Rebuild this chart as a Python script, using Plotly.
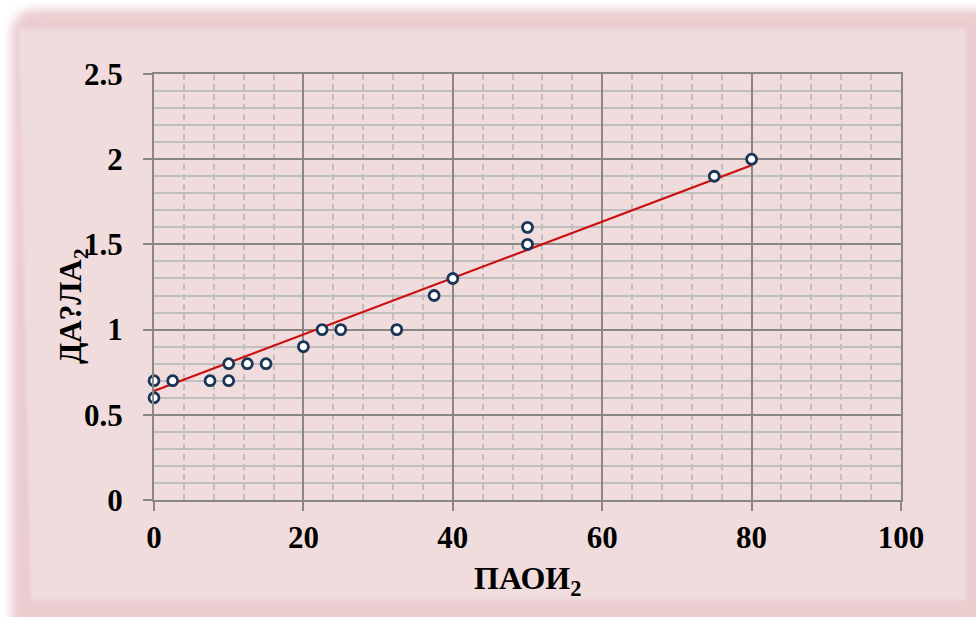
import base64
import plotly.graph_objects as go

# Measured points
paoi = [0, 0, 2.5, 7.5, 10, 10, 12.5, 15, 20, 22.5, 25, 32.5, 37.5, 40, 50, 50, 75, 80]
dala = [0.7, 0.6, 0.7, 0.7, 0.8, 0.7, 0.8, 0.8, 0.9, 1.0, 1.0, 1.0, 1.2, 1.3, 1.6, 1.5, 1.9, 2.0]

# Linear trend line end points
trend_x = [0, 80]
trend_y = [0.64, 1.965]

x_ticks = [0, 20, 40, 60, 80, 100]
y_ticks = [0, 0.5, 1, 1.5, 2, 2.5]
y_tick_text = ["0", "0.5", "1", "1.5", "2", "2.5"]

W, H = 976, 617
ML, MR, MT, MB = 154, 75, 74, 117
PW, PH = W - ML - MR, H - MT - MB

FONT = "Liberation Serif, Times New Roman, serif"
MAJOR = "#878787"
MINOR = "#bfbfbf"

# Pink framed backdrop with soft edges
svg = f'''<svg xmlns="http://www.w3.org/2000/svg" width="{W}" height="{H}" viewBox="0 0 {W} {H}">
<defs>
<filter id="soft" x="-20%" y="-20%" width="140%" height="140%"><feGaussianBlur stdDeviation="5"/></filter>
<filter id="edge" x="-5%" y="-5%" width="110%" height="110%"><feGaussianBlur stdDeviation="1.5"/></filter>
</defs>
<rect x="0" y="0" width="{W}" height="{H}" fill="#ffffff"/>
<rect x="11" y="9" width="990" height="640" rx="24" fill="#ebcdd0" filter="url(#soft)"/>
<polygon points="19,29 966,29 966,600 31,600" fill="#f0dcdd" filter="url(#edge)"/>
</svg>'''
bg_src = "data:image/svg+xml;base64," + base64.b64encode(svg.encode()).decode()

fig = go.Figure()

fig.add_trace(go.Scatter(
    x=trend_x, y=trend_y, mode="lines",
    line=dict(color="#cc0f0f", width=2.2),
    hoverinfo="skip", showlegend=False,
))

fig.add_trace(go.Scatter(
    x=paoi, y=dala, mode="markers",
    marker=dict(symbol="circle", size=10, color="#ffffff",
                line=dict(color="#1b3556", width=2.8)),
    cliponaxis=False, showlegend=False,
))

fig.update_layout(
    width=W, height=H, autosize=False,
    margin=dict(l=ML, r=MR, t=MT, b=MB, pad=0),
    paper_bgcolor="#ffffff",
    plot_bgcolor="#ffffff",
    font=dict(family=FONT, color="#000000"),
    images=[dict(
        source=bg_src, xref="paper", yref="paper",
        x=-ML / PW, y=1 + MT / PH, sizex=W / PW, sizey=H / PH,
        xanchor="left", yanchor="top", sizing="stretch", layer="below",
    )],
    annotations=[
        dict(text="<b>ПАОИ<sub>2</sub></b>", xref="paper", yref="paper",
             x=0.5, y=-(580 - (MT + PH)) / PH, xanchor="center", yanchor="middle",
             showarrow=False, font=dict(family=FONT, size=32, color="#000000")),
        dict(text="<b>ДА?ЛА<sub>2</sub></b>", xref="paper", yref="paper",
             x=-(ML - 73) / PW, y=1 - (306 - MT) / PH, xanchor="center", yanchor="middle",
             textangle=-90, showarrow=False,
             font=dict(family=FONT, size=31, color="#000000")),
    ],
)

fig.update_xaxes(
    range=[0, 100], tickvals=x_ticks, ticktext=[f"<b>{v}</b>" for v in x_ticks],
    tickfont=dict(family=FONT, size=31, color="#000000"),
    ticks="outside", ticklen=9, tickwidth=2, tickcolor=MAJOR,
    ticklabelstandoff=0,
    showline=True, linecolor=MAJOR, linewidth=2, mirror=True,
    showgrid=True, gridcolor=MAJOR, gridwidth=2,
    minor=dict(dtick=4, tick0=0, showgrid=True, gridcolor=MINOR, gridwidth=1.8,
               griddash="6px,4px"),
    zeroline=False, fixedrange=True,
)

fig.update_yaxes(
    range=[0, 2.5], tickvals=y_ticks, ticktext=[f"<b>{t}</b>" for t in y_tick_text],
    tickfont=dict(family=FONT, size=31, color="#000000"),
    ticks="outside", ticklen=9, tickwidth=2, tickcolor=MAJOR,
    ticklabelstandoff=14,
    showline=True, linecolor=MAJOR, linewidth=2, mirror=True,
    showgrid=True, gridcolor=MAJOR, gridwidth=2,
    minor=dict(dtick=0.1, tick0=0, showgrid=True, gridcolor=MINOR, gridwidth=2),
    zeroline=False, fixedrange=True,
)

fig.write_html("out.html")
